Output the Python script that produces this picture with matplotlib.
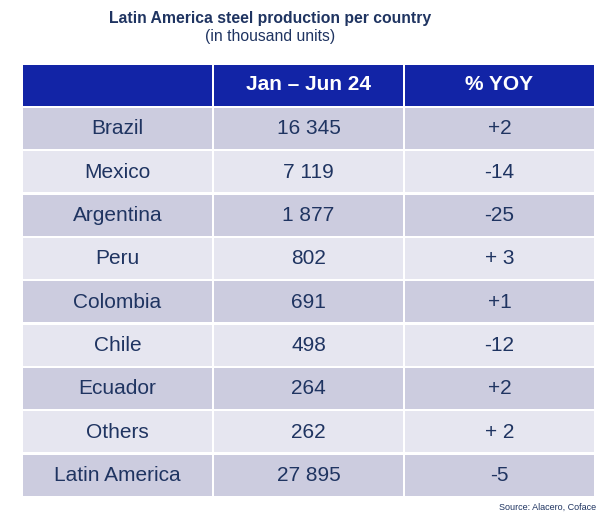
import matplotlib.pyplot as plt
from matplotlib.patches import Rectangle

countries = ["Brazil", "Mexico", "Argentina", "Peru", "Colombia", "Chile",
             "Ecuador", "Others", "Latin America"]
production = ["16 345", "7 119", "1 877", "802", "691", "498", "264", "262", "27 895"]
yoy = ["+2", "-14", "-25", "+ 3", "+1", "-12", "+2", "+ 2", "-5"]
headers = ["", "Jan \u2013 Jun 24", "% YOY"]

FONTS = ["Liberation Sans", "DejaVu Sans"]
HEADER_BLUE = "#1224a6"
ROW_DARK = "#ccccdf"
ROW_LIGHT = "#e6e6f0"
TEXT = "#1f3461"

col_edges = [22, 213, 404, 595]
header_top, header_bot = 65, 106
rows_top, rows_bot = 108, 498
gap = 2.5

fig = plt.figure(figsize=(6.13, 5.15), dpi=100)
ax = fig.add_axes([0, 0, 1, 1])
ax.set_xlim(0, 613)
ax.set_ylim(515, 0)
ax.axis("off")


def cell(x0, x1, y0, y1, color):
    ax.add_patch(Rectangle((x0 + gap / 2, y0), x1 - x0 - gap, y1 - y0,
                           facecolor=color, edgecolor="none"))


# header row
for i, h in enumerate(headers):
    x0, x1 = col_edges[i], col_edges[i + 1]
    cell(x0, x1, header_top, header_bot, HEADER_BLUE)
    ax.text((x0 + x1) / 2, header_top + 25, h, color="white",
            fontsize=15, fontweight="bold", family=FONTS, ha="center", va="baseline")

# body rows
row_h = (rows_bot - rows_top) / len(countries)
for r, vals in enumerate(zip(countries, production, yoy)):
    y0 = rows_top + r * row_h
    y1 = y0 + row_h - gap
    color = ROW_DARK if r % 2 == 0 else ROW_LIGHT
    for i, v in enumerate(vals):
        x0, x1 = col_edges[i], col_edges[i + 1]
        cell(x0, x1, y0, y1, color)
        ax.text((x0 + x1) / 2, y0 + 26.5, v, color=TEXT,
                fontsize=15, family=FONTS, ha="center", va="baseline")

ax.text(270, 23.3, "Latin America steel production per country", color=TEXT,
        fontsize=11.3, fontweight="bold", family=FONTS, ha="center", va="baseline")
ax.text(270, 41.5, "(in thousand units)", color=TEXT, fontsize=11.3,
        family=FONTS, ha="center", va="baseline")
ax.text(596, 509.5, "Source: Alacero, Coface", color=TEXT, fontsize=6.5,
        family=FONTS, ha="right", va="baseline")

fig.savefig("out.png", dpi=100)
